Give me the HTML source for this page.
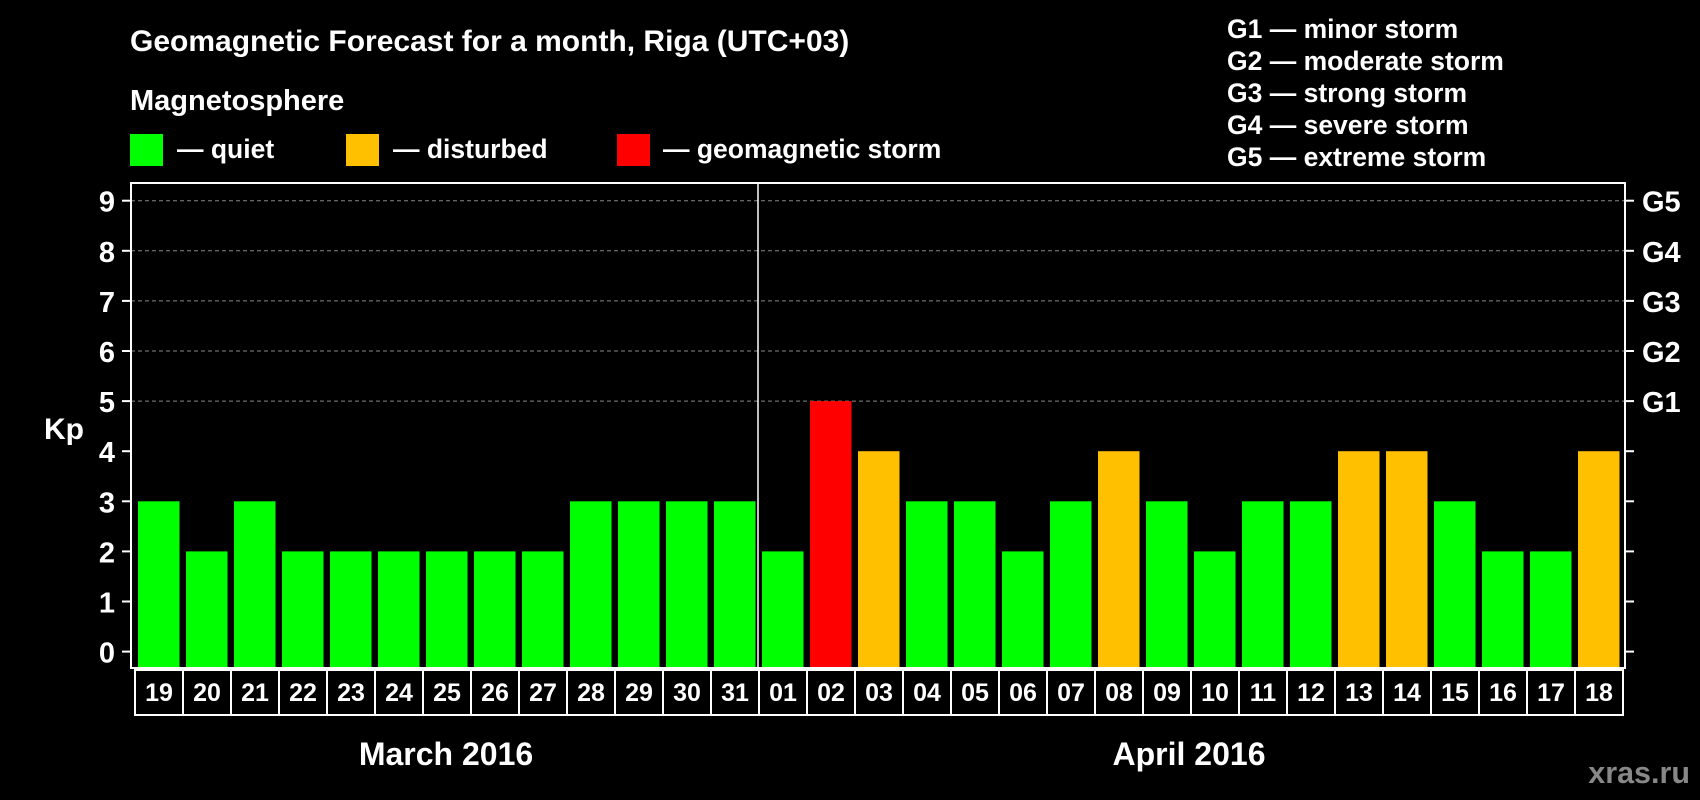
<!DOCTYPE html>
<html><head><meta charset="utf-8"><style>
html,body{margin:0;padding:0;background:#000;}
svg{display:block;font-family:"Liberation Sans",Arial,sans-serif;font-weight:bold;}
</style></head><body>
<svg id="chart" width="1700" height="800" viewBox="0 0 1700 800">
<rect x="0" y="0" width="1700" height="800" fill="#000"/>
<text x="130" y="51" fill="#fff" font-size="30">Geomagnetic Forecast for a month, Riga (UTC+03)</text>
<text x="130" y="110" fill="#fff" font-size="29">Magnetosphere</text>
<g><rect x="130" y="134" width="33" height="32" fill="#00ff00"/><text x="177" y="158" fill="#fff" font-size="26.5">— quiet</text></g>
<g><rect x="346" y="134" width="33" height="32" fill="#ffc000"/><text x="393" y="158" fill="#fff" font-size="26.5">— disturbed</text></g>
<g><rect x="617" y="134" width="33" height="32" fill="#ff0000"/><text x="663" y="158" fill="#fff" font-size="26.5">— geomagnetic storm</text></g>
<g fill="#fff" font-size="26.5">
<text x="1227" y="38">G1 — minor storm</text>
<text x="1227" y="70">G2 — moderate storm</text>
<text x="1227" y="102">G3 — strong storm</text>
<text x="1227" y="134">G4 — severe storm</text>
<text x="1227" y="166">G5 — extreme storm</text>
</g>
<text x="64" y="439" fill="#fff" font-size="30" text-anchor="middle">Kp</text>
<text x="446" y="765" fill="#fff" font-size="32" text-anchor="middle">March 2016</text>
<text x="1189" y="765" fill="#fff" font-size="32" text-anchor="middle">April 2016</text>
<text x="1690" y="783" fill="#888" font-size="30.5" text-anchor="end">xras.ru</text>
<g id="marks"></g>
</svg>
<script>
const days = ["19","20","21","22","23","24","25","26","27","28","29","30","31","01","02","03","04","05","06","07","08","09","10","11","12","13","14","15","16","17","18"];
const kpValues = [3,2,3,2,2,2,2,2,2,3,3,3,3,2,5,4,3,3,2,3,4,3,2,3,3,4,4,3,2,2,4];
const yTicks = [0,1,2,3,4,5,6,7,8,9];
const gLabels = ["G1","G2","G3","G4","G5"];
const gLevels = [5,6,7,8,9];
const monthBreakIndex = 13;

const NS = "http://www.w3.org/2000/svg";
const g = document.getElementById("marks");
const plotL = 131, plotR = 1625, plotT = 183, plotB = 668;
const bandStart = 134, bandW = 48;
const y = v => 651.6 - v * 50.1;
const x = i => bandStart + i * bandW;
function mk(tag, attrs, parent) {
  const e = document.createElementNS(NS, tag);
  for (const k in attrs) e.setAttribute(k, attrs[k]);
  (parent || g).appendChild(e);
  return e;
}
function color(v) { return v >= 5 ? "#ff0000" : v >= 4 ? "#ffc000" : "#00ff00"; }

gLevels.forEach((lv, i) => {
  const ln = mk("line", {x1: plotL, x2: plotR, y1: y(lv), y2: y(lv), stroke: "#888", "stroke-width": 1, "stroke-dasharray": "4,3"});
  
  
  const t = mk("text", {x: 1642, y: y(lv) + 11, fill: "#fff", "font-size": 29});
  t.textContent = gLabels[i];
  
  
});
yTicks.forEach(v => {
  const tl = mk("line", {x1: 122, x2: plotL, y1: y(v), y2: y(v), stroke: "#fff", "stroke-width": 2});
  
  
  const tr = mk("line", {x1: plotR, x2: 1634, y1: y(v), y2: y(v), stroke: "#fff", "stroke-width": 2});
  
  
  const t = mk("text", {x: 115, y: y(v) + 11, fill: "#fff", "font-size": 29, "text-anchor": "end"});
  t.textContent = v;
  
  
});
kpValues.forEach((v, i) => {
  const b = mk("rect", {x: x(i) + 4, y: y(v), width: 41.5, height: plotB - y(v) - 1, fill: color(v)});
  
  
  const box = mk("rect", {x: x(i) + 1, y: 670, width: bandW, height: 45, fill: "none", stroke: "#fff", "stroke-width": 2});
  
  
  const t = mk("text", {x: x(i) + 1 + bandW / 2, y: 701, fill: "#fff", "font-size": 25, "text-anchor": "middle"});
  t.textContent = days[i];
  
  
});
const frame = mk("rect", {x: plotL, y: plotT, width: plotR - plotL, height: plotB - plotT, fill: "none", stroke: "#fff", "stroke-width": 2});


const div = mk("line", {x1: x(monthBreakIndex), x2: x(monthBreakIndex), y1: plotT, y2: plotB, stroke: "#fff", "stroke-width": 1.5});


</script>
</body></html>
